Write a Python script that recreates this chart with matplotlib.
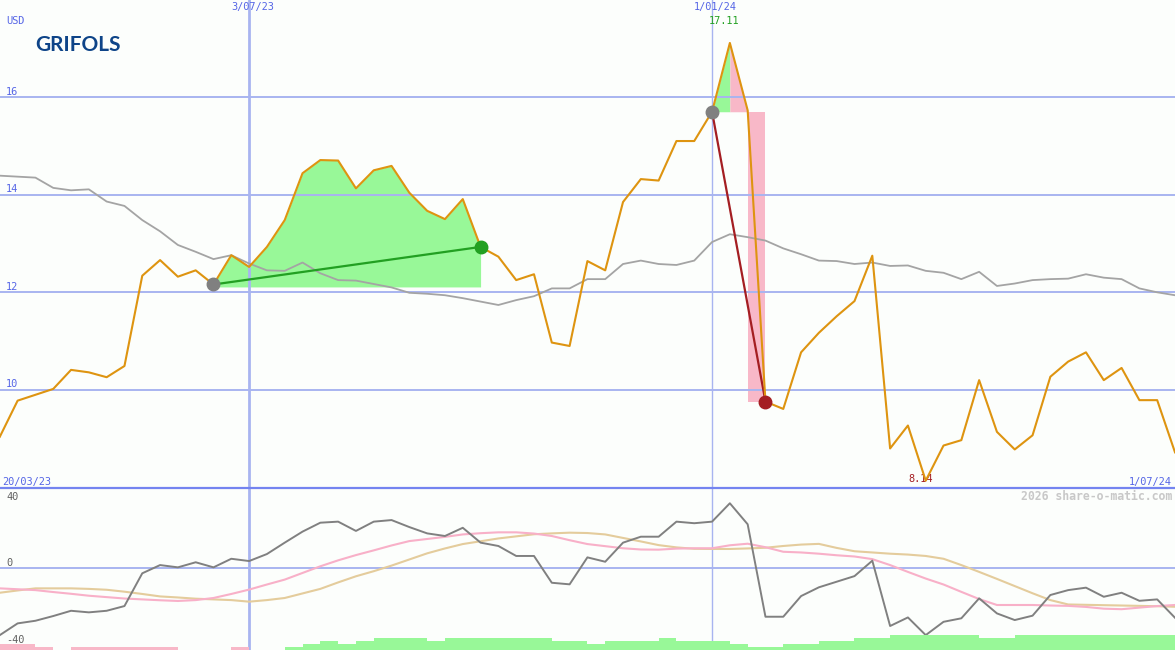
import numpy as np
import matplotlib
matplotlib.use("Agg")
import matplotlib.pyplot as plt
from matplotlib.lines import Line2D

# weekly closes, week 1 = 27/03/23 ... week 67 = 1/07/24
weeks = np.arange(1, 68)
price = [9.04, 9.78, 9.90, 10.02, 10.41, 10.36, 10.26, 10.49, 12.34, 12.66,
         12.32, 12.45, 12.16, 12.76, 12.52, 12.93, 13.48, 14.44, 14.71, 14.70,
         14.13, 14.50, 14.59, 14.04, 13.67, 13.50, 13.91, 12.93, 12.73, 12.25,
         12.37, 10.97, 10.90, 12.64, 12.45, 13.85, 14.32, 14.29, 15.10, 15.10,
         15.70, 17.11, 15.73, 9.76, 9.61, 10.77, 11.17, 11.51, 11.82, 12.75,
         8.80, 9.27, 8.14, 8.86, 8.97, 10.20, 9.14, 8.78, 9.07, 10.27,
         10.58, 10.77, 10.20, 10.45, 9.79, 9.79, 8.72]
avg_line = [14.39, 14.37, 14.35, 14.14, 14.09, 14.11, 13.86, 13.77, 13.48, 13.25,
            12.97, 12.83, 12.68, 12.76, 12.59, 12.45, 12.44, 12.61, 12.39, 12.25,
            12.24, 12.17, 12.10, 11.99, 11.97, 11.94, 11.88, 11.81, 11.74, 11.84,
            11.92, 12.08, 12.08, 12.27, 12.27, 12.58, 12.65, 12.58, 12.56, 12.65,
            13.03, 13.19, 13.13, 13.06, 12.90, 12.78, 12.65, 12.64, 12.58, 12.61,
            12.54, 12.55, 12.44, 12.40, 12.27, 12.42, 12.13, 12.18, 12.25, 12.27,
            12.28, 12.37, 12.30, 12.27, 12.08, 12.00, 11.94]

# lower panel indicators
momentum = [-38.6, -31.9, -30.4, -27.7, -24.7, -25.6, -24.7, -22.0, -3.3, 1.4,
            0.1, 3.0, 0.1, 5.0, 3.7, 7.7, 14.2, 20.5, 25.6, 26.2,
            20.9, 26.2, 27.1, 23.1, 19.5, 18.0, 22.7, 14.2, 12.3, 6.6,
            6.6, -8.7, -9.6, 5.8, 3.3, 14.2, 17.6, 17.6, 26.2, 25.3,
            26.2, 36.7, 24.7, -28.1, -28.1, -16.3, -11.3, -8.1, -4.9, 3.9,
            -33.4, -28.5, -38.6, -31.0, -29.0, -17.6, -26.2, -30.0, -27.5, -15.7,
            -12.9, -11.5, -16.7, -14.4, -19.0, -18.2, -28.7]
signal_pink = [-11.9, -12.4, -12.9, -14.0, -15.0, -16.1, -16.9, -17.7, -18.2, -18.7,
               -19.1, -18.6, -17.4, -15.1, -12.6, -9.7, -6.9, -3.1, 0.7, 4.1,
               7.1, 9.8, 12.6, 15.1, 16.3, 17.5, 18.9, 19.6, 20.1, 20.1,
               19.4, 18.0, 15.6, 13.4, 12.2, 11.0, 10.3, 10.2, 10.8, 11.0,
               11.0, 12.7, 13.6, 11.6, 9.0, 8.6, 7.9, 7.0, 6.3, 4.8,
               1.4, -2.5, -6.3, -9.7, -13.9, -18.0, -21.4, -21.4, -21.4, -21.7,
               -21.9, -22.5, -23.5, -23.8, -22.9, -22.0, -21.4]
signal_tan = [-14.4, -13.1, -11.9, -11.9, -11.9, -12.2, -12.7, -13.8, -15.1, -16.5,
              -17.1, -17.8, -18.2, -18.6, -19.5, -18.6, -17.4, -14.8, -12.2, -8.5,
              -5.0, -2.1, 1.1, 4.6, 8.1, 10.9, 13.4, 15.0, 16.6, 17.8,
              19.0, 19.5, 19.9, 19.7, 18.9, 16.9, 14.9, 12.8, 11.5, 10.7,
              10.6, 10.6, 10.9, 11.3, 12.3, 13.1, 13.5, 11.2, 9.3, 8.6,
              7.9, 7.4, 6.6, 5.0, 1.4, -2.5, -6.5, -10.6, -14.7, -18.6,
              -21.1, -21.3, -21.5, -21.7, -21.9, -22.1, -22.4]
# weekly strength bars (sign = colour), one per week step
strength = [-2, -2, -1, 0, -1, -1, -1, -1, -1, -1, 0, 0, 0, -1, 0, 0, 1, 2, 3, 2,
            3, 4, 4, 4, 3, 4, 4, 4, 4, 4, 4, 3, 3, 2, 3, 3, 3, 4, 3, 3,
            3, 2, 1, 1, 2, 2, 3, 3, 4, 4, 5, 5, 5, 5, 5, 4, 4, 5, 5, 5,
            5, 5, 5, 5, 5, 5]

grid_levels = [10, 12, 14, 16]
date_marks = [(15, "3/07/23", 2.0), (41, "1/01/24", 1.0)]
first_label, last_label = "20/03/23", "1/07/24"
trade_win = (13, 28)    # entry, exit week
trade_loss = (41, 44)

BG = "#fcfefc"
GRID = "#a8b4f0"
TXT = "#5565e6"
ORANGE = "#de9410"
GREEN_FILL = "#98f898"
PINK_FILL = "#f8b8c8"
mono = "DejaVu Sans Mono"

fig = plt.figure(figsize=(11.75, 6.5), dpi=100)
fig.patch.set_facecolor(BG)
ax = fig.add_axes([0, 0.25, 1, 0.75])
ax2 = fig.add_axes([0, 0, 1, 0.25], sharex=ax)
for a in (ax, ax2):
    a.set_facecolor(BG)
    for s in a.spines.values():
        s.set_visible(False)
    a.set_xticks([])
    a.set_yticks([])

p = np.array(price)
x = weeks
ax.set_xlim(1.01, 67.0)
ax.set_ylim(8.0, 17.99)

# gridlines + vertical date markers
for lv in grid_levels:
    ax.axhline(lv, color=GRID, lw=1.4, zorder=2)
    ax.text(6 / 1175, lv + 0.05, str(lv), transform=ax.get_yaxis_transform(),
            fontsize=7.4, family=mono, color=TXT, va="baseline", ha="left")
for wk, lab, lw in date_marks:
    for a in (ax, ax2):
        a.axvline(wk, color=GRID, lw=lw, zorder=2)
    ax.text(wk + 0.2, 1 - 2 / 487.5, lab, transform=ax.get_xaxis_transform(),
            fontsize=7.4, family=mono, color=TXT, ha="center", va="top")

# winning trade
e, q = trade_win
m = (x >= e) & (x <= q)
ax.fill_between(x[m], p[m], p[e - 1] - 0.05, color=GREEN_FILL, lw=0, zorder=1)
ax.plot([e, q], [p[e - 1], p[q - 1]], color="#22a022", lw=1.6, zorder=4)

# losing trade
e2, q2 = trade_loss
pk = int(np.argmax(p)) + 1
m = (x >= e2) & (x <= pk)
ax.fill_between(x[m], p[m], p[e2 - 1], color=GREEN_FILL, lw=0, zorder=1)
m = (x >= pk) & (x <= q2 - 1)
ax.fill_between(x[m], p[m], p[e2 - 1], color=PINK_FILL, lw=0, zorder=1)
ax.fill_between([q2 - 1, q2], p[q2 - 1], p[e2 - 1], color=PINK_FILL, lw=0, zorder=1)
ax.plot([e2, q2], [p[e2 - 1], p[q2 - 1]], color="#a41e22", lw=1.6, zorder=4)

ax.plot(x, avg_line, color="#a4a4a4", lw=1.3, zorder=3)
ax.plot(x, p, color=ORANGE, lw=1.5, zorder=5)

ax.plot(e, p[e - 1], "o", color="#808080", ms=9, zorder=6)
ax.plot(q, p[q - 1], "o", color="#22a022", ms=9, zorder=6)
ax.plot(e2, p[e2 - 1], "o", color="#808080", ms=9, zorder=6)
ax.plot(q2, p[q2 - 1], "o", color="#a41e22", ms=9, zorder=6)

# texts
ax.text(6 / 1175, 1 - 21 / 487.5, "USD", transform=ax.transAxes, fontsize=7.4,
        family=mono, color=TXT, va="center", ha="left")
ax.text(35 / 1175, 1 - 45 / 487.5, "GRIFOLS", transform=ax.transAxes, fontsize=15,
        family="Lato", fontweight="bold", color="#0e4488", va="center", ha="left")
ax.annotate(f"{p.max():.2f}", (pk, 1 - 21 / 487.5), xycoords=ax.get_xaxis_transform(),
            xytext=(-6, 0), textcoords="offset pixels", fontsize=7.4, family=mono,
            color="#22a022", ha="center", va="center")
lo = int(np.argmin(p)) + 1
ax.annotate(f"{p.min():.2f}", (lo, 8.0), xytext=(-5, 8), textcoords="offset pixels",
            fontsize=7.4, family=mono, color="#a41e22", ha="center", va="center")
ax.text(2 / 1175, 8.0, first_label, transform=ax.get_yaxis_transform(), fontsize=7.4,
        family=mono, color=TXT, ha="left", va="bottom")
ax.text(1 - 3 / 1175, 8.0, last_label, transform=ax.get_yaxis_transform(), fontsize=7.4,
        family=mono, color=TXT, ha="right", va="bottom")

# lower panel
ax2.set_ylim(-47.1, 45.7)
ax2.axhline(0, color=GRID, lw=1.4, zorder=2)
ax2.plot(x, signal_tan, color="#e4cc9c", lw=1.5, zorder=3)
ax2.plot(x, signal_pink, color="#f8b0c8", lw=1.5, zorder=3)
ax2.plot(x, momentum, color="#808080", lw=1.4, zorder=4)
for val, yy in (("40", 38.6), ("0", 0.9), ("-40", -43.3)):
    ax2.text(6 / 1175, yy, val, transform=ax2.get_yaxis_transform(), fontsize=7.4,
             family=mono, color="#606060", ha="left", va="baseline", zorder=6)
ax2.text(1 - 3 / 1175, 1 - 9 / 162.5, "2026 share-o-matic.com", transform=ax2.transAxes,
         fontsize=8.3, family=mono, fontweight="bold", color="#c8c8c8",
         ha="right", va="center")

axb = ax2.twinx()
axb.set_ylim(0, 54.17)
axb.set_yticks([])
for s in axb.spines.values():
    s.set_visible(False)
st = np.array(strength)
cols = [GREEN_FILL if v > 0 else PINK_FILL for v in st]
axb.bar(x[:-1], np.abs(st), width=1.0, align="edge", color=cols, lw=0, zorder=1)

fig.add_artist(Line2D([0, 1], [0.25, 0.25], color="#7484f0", lw=1.6))

fig.savefig("out.png", dpi=100, facecolor=BG)
